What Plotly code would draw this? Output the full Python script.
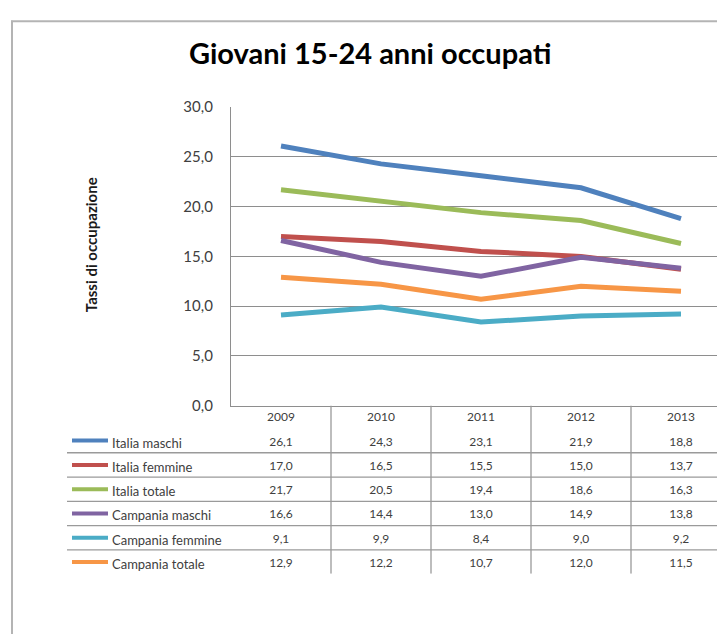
import plotly.graph_objects as go

# ---- data ----
years = ["2009", "2010", "2011", "2012", "2013"]
series_names = ["Italia maschi", "Italia femmine", "Italia totale",
                "Campania maschi", "Campania femmine", "Campania totale"]
italia_maschi = [26.1, 24.3, 23.1, 21.9, 18.8]
italia_femmine = [17.0, 16.5, 15.5, 15.0, 13.7]
italia_totale = [21.7, 20.5, 19.4, 18.6, 16.3]
campania_maschi = [16.6, 14.4, 13.0, 14.9, 13.8]
campania_femmine = [9.1, 9.9, 8.4, 9.0, 9.2]
campania_totale = [12.9, 12.2, 10.7, 12.0, 11.5]
series_values = [italia_maschi, italia_femmine, italia_totale,
                 campania_maschi, campania_femmine, campania_totale]
colors = ["#4F81BD", "#C0504D", "#9BBB59", "#8064A2", "#4BACC6", "#F79646"]

title_text = "Giovani 15-24 anni occupati"
y_title = "Tassi di occupazione"

W, H = 717, 642
FONT = "Lato"
GRID = "#8e8e8e"
TXT = "#404040"


def px(x):
    return x / W


def py(y):
    return 1 - y / H


fig = go.Figure()

# lines
for name, vals, col in zip(series_names, series_values, colors):
    fig.add_trace(go.Scatter(x=years, y=vals, name=name, mode="lines",
                             line=dict(color=col, width=5),
                             xaxis="x", yaxis="y", showlegend=False,
                             hoverinfo="x+y+name"))

# data table (text) on second y axis: rows 0..5, header row at -0.92
HEADER_ROW = -0.92
fig.add_trace(go.Scatter(x=years, y=[HEADER_ROW] * len(years), mode="text",
                         text=years, textfont=dict(family=FONT, size=12, color=TXT),
                         xaxis="x", yaxis="y2", showlegend=False, hoverinfo="skip",
                         cliponaxis=False))
for r, vals in enumerate(series_values):
    fig.add_trace(go.Scatter(x=years, y=[r + 0.08] * len(years), mode="text",
                             text=[f"{v:.1f}".replace(".", ",") for v in vals],
                             textfont=dict(family=FONT, size=12, color=TXT),
                             xaxis="x", yaxis="y2", showlegend=False,
                             hoverinfo="skip", cliponaxis=False))

shapes = []
annotations = []
R0, R1 = 5.48, -1.44
# table horizontal lines between data rows
for r in range(len(series_names) - 1):
    shapes.append(dict(type="line", xref="paper", yref="y2",
                       x0=px(67), x1=1.0, y0=r + 0.5, y1=r + 0.5,
                       line=dict(color="#9a9a9a", width=1.3)))
# table vertical lines between categories
for i in range(len(years) - 1):
    shapes.append(dict(type="line", xref="x", yref="y2",
                       x0=i + 0.5, x1=i + 0.5, y0=R1, y1=R0,
                       line=dict(color="#9a9a9a", width=1.3)))
# legend keys + labels
for r, (name, col) in enumerate(zip(series_names, colors)):
    shapes.append(dict(type="line", xref="paper", yref="y2",
                       x0=px(72), x1=px(108), y0=r, y1=r,
                       line=dict(color=col, width=4)))
    annotations.append(dict(xref="paper", yref="y2", x=px(110), y=r + 0.08,
                            text=name, showarrow=False, xanchor="left",
                            yanchor="middle",
                            font=dict(family=FONT, size=13, color=TXT)))

# outer chart frame
shapes.append(dict(type="line", xref="paper", yref="paper",
                   x0=px(11), x1=1.0, y0=py(11.5), y1=py(11.5),
                   line=dict(color="#b4b4b4", width=2)))
shapes.append(dict(type="line", xref="paper", yref="paper",
                   x0=px(12), x1=px(12), y0=py(11), y1=0,
                   line=dict(color="#b4b4b4", width=2)))

# title and y-axis title
annotations.append(dict(xref="paper", yref="paper", x=px(370), y=py(44),
                        text=title_text, showarrow=False, xanchor="center",
                        yanchor="middle",
                        font=dict(family=FONT, size=29, color="#000000",
                                  weight="bold")))
annotations.append(dict(xref="paper", yref="paper", x=px(91), y=py(242),
                        text=y_title, showarrow=False, textangle=-90,
                        xanchor="center", yanchor="middle",
                        font=dict(family=FONT, size=15, color="#1a1a1a",
                                  weight="bold")))

fig.update_layout(
    width=W, height=H,
    margin=dict(l=0, r=0, t=0, b=0),
    paper_bgcolor="white", plot_bgcolor="white",
    separators=",.",
    font=dict(family=FONT, color=TXT),
    xaxis=dict(type="category", domain=[px(231), 1.0], range=[-0.5, 4.36],
               anchor="y", showgrid=False, showticklabels=False, ticks="",
               showline=True, linecolor=GRID, linewidth=1.3, zeroline=False),
    yaxis=dict(domain=[py(407), py(100)], range=[0, 30], dtick=5,
               tickformat=".1f", anchor="x", showgrid=True, gridcolor=GRID,
               gridwidth=1.3, showline=True, linecolor=GRID, linewidth=1.3,
               zeroline=False, ticks="", ticklabelstandoff=14,
               tickfont=dict(family=FONT, size=15, color=TXT)),
    yaxis2=dict(domain=[py(580), py(407)], range=[R0, R1], anchor="x",
                visible=False, showgrid=False, zeroline=False),
    shapes=shapes,
    annotations=annotations,
)

fig.write_html("out.html",
               config={"displayModeBar": False},
               post_script="document.body.style.margin='0';"
                           "document.body.style.overflow='hidden';")
